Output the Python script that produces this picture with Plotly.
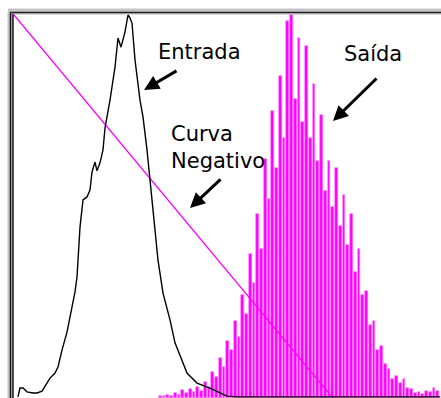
import plotly.graph_objects as go

# Entrada (input histogram), normalised to 100 at the peak
entrada_x = [3.2, 4.8, 7.2, 10.4, 15.2, 18.4, 22.4, 24.8, 28.8, 32.8, 35.2, 38.4, 42.4, 44.8,
             47.2, 48.8, 50.4, 51.2, 52.8, 55.2, 58.4, 60.8, 62.4, 64.8, 66.4, 68.8, 71.2,
             72.8, 76.8, 80.8, 83.2, 85.6, 88.8, 91.2, 92.8, 94.4, 96.8, 100.8, 103.2, 106.4,
             108.8, 111.2, 113.6, 115.2, 119.2, 124.8, 128.8, 134.4, 138.4, 146.4, 156.8,
             170.4, 179.2, 200, 230, 260, 300, 341]
entrada_y = [0.3, 2.6, 2.6, 1.6, 1.3, 1.3, 1.8, 3.1, 5.2, 6.5, 8.1, 12.5, 17.2, 21.1,
             24.8, 27.7, 31.6, 36.0, 44.6, 51.7, 52.5, 54.3, 59.0, 61.6, 59.3, 61.4, 64.8,
             70.5, 77.8, 86.4, 94.0, 91.6, 95.6, 100, 99.2, 97.9, 88.3, 77.8, 73.4, 64.8,
             56.9, 49.1, 41.3, 36.0, 27.4, 20.4, 14.4, 9.9, 6.5, 3.9, 2.6,
             0.5, 0.3, 0.3, 0.3, 0.3, 0.3, 0.3]

# Saida (output histogram) - one spike per bin
saida_x = [117, 120, 123, 126, 129, 132, 135, 138, 141, 144, 147, 150, 153, 156, 159, 162,
           165, 168, 171, 174, 177, 180, 183, 186, 189, 192, 195, 198, 201, 204, 207, 210,
           213, 216, 219, 222, 225, 228, 231, 234, 237, 240, 243, 246, 249, 252, 255, 258,
           261, 264, 267, 270, 273, 276, 279, 282, 285, 288, 291, 294, 297, 300, 303, 306,
           309, 312, 315, 318, 321, 324, 327, 330, 333, 336, 339]
saida_y = [0.5, 0.4, 0.9, 0.6, 1.3, 0.8, 2.0, 1.2, 2.4, 1.5, 2.8, 1.9, 4.1, 3.0, 6.8, 5.5,
           10.5, 8.0, 15.0, 12.5, 20.0, 16.0, 27.0, 22.0, 37.5, 30.0, 48.0, 39.0, 62.5, 52.0, 75.0, 60.0,
           84.0, 68.0, 98.5, 100, 78.0, 94.0, 72.0, 92.0, 68.0, 82.0, 62.0, 74.0, 54.0, 62.0, 50.0, 60.0,
           45.0, 53.0, 40.0, 48.0, 33.0, 39.0, 27.0, 28.0, 19.0, 20.0, 12.5, 13.5, 9.0, 7.5, 5.0, 5.7,
           4.0, 4.9, 2.6, 2.4, 1.3, 1.6, 1.0, 1.7, 1.5, 2.7, 1.8]

# Curva Negativo (transfer curve)
negativo_x = [0, 255]
negativo_y = [100, 0]

# page pixel -> data / paper (body margin is removed, figure is 441x398)
def dx(p):
    return (p - 14) / 1.25

def dy(p):
    return (398 - p) / 3.83

def fx(p):
    return p / 441

def fy(p):
    return (398 - p) / 398

fig = go.Figure()

fig.add_trace(go.Bar(
    x=saida_x, y=saida_y, width=2.2,
    marker=dict(color='#ff00ff', line=dict(width=0.6, color='#ff7dff')),
    showlegend=False, hoverinfo='skip'
))

fig.add_trace(go.Scatter(
    x=negativo_x, y=negativo_y, mode='lines',
    line=dict(color='#ff00ff', width=1.2),
    showlegend=False, hoverinfo='skip'
))

fig.add_trace(go.Scatter(
    x=entrada_x, y=entrada_y, mode='lines',
    line=dict(color='black', width=1.4),
    showlegend=False, hoverinfo='skip'
))

# window-like frame (top and left edges only)
frame = [
    dict(type='rect', x0=dx(8), x1=dx(445), y0=dy(12), y1=dy(8.5), fillcolor='#c4c4c4', line=dict(width=0)),
    dict(type='rect', x0=dx(7.5), x1=dx(10), y0=dy(402), y1=dy(12), fillcolor='#c4c4c4', line=dict(width=0)),
    dict(type='line', x0=dx(10), x1=dx(445), y0=dy(12.5), y1=dy(12.5), line=dict(color='#202020', width=1.5)),
    dict(type='line', x0=dx(11.5), x1=dx(445), y0=dy(13.8), y1=dy(13.8), line=dict(color='#8a8a8a', width=1)),
    dict(type='line', x0=dx(10.5), x1=dx(10.5), y0=dy(402), y1=dy(12.5), line=dict(color='#101010', width=1.5)),
    dict(type='line', x0=dx(11.8), x1=dx(11.8), y0=dy(402), y1=dy(13.5), line=dict(color='#8a8a8a', width=1)),
    dict(type='line', x0=dx(13), x1=dx(13), y0=dy(402), y1=dy(14), line=dict(color='#101010', width=1.5)),
]

font = dict(family='DejaVu Sans, Verdana, sans-serif', size=21, color='black')

labels = [
    dict(text='Entrada', x=fx(156), y=fy(52), xanchor='left', yanchor='middle'),
    dict(text='Saída', x=fx(342), y=fy(54), xanchor='left', yanchor='middle'),
    dict(text='Curva<br>Negativo', x=fx(169), y=fy(148), xanchor='left', yanchor='middle', align='left'),
]
annotations = [dict(xref='paper', yref='paper', showarrow=False, font=font, **a) for a in labels]

# arrows: tip position, tail offset in pixels
arrows = [
    (144, 90, 34, -20),
    (333, 121, 45, -44),
    (190, 208, 32, -30),
]
for tx, ty, ox, oy in arrows:
    annotations.append(dict(
        xref='paper', yref='paper', x=fx(tx), y=fy(ty), ax=ox, ay=oy,
        text='', showarrow=True, arrowhead=2, arrowsize=1, arrowwidth=3,
        arrowcolor='black', standoff=0
    ))

fig.update_layout(
    width=441, height=398,
    margin=dict(l=0, r=0, t=0, b=0),
    plot_bgcolor='white', paper_bgcolor='white',
    xaxis=dict(range=[dx(0), dx(441)], visible=False),
    yaxis=dict(range=[dy(398), dy(0)], visible=False),
    bargap=0,
    shapes=frame,
    annotations=annotations,
)

fig.write_html("out.html", config={'displayModeBar': False},
               post_script="document.body.style.margin='0';document.body.style.overflow='hidden';")
